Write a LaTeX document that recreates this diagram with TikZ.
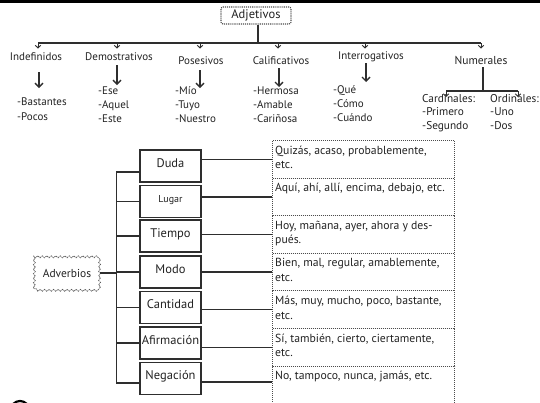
\documentclass[tikz,border=0pt]{standalone}
\usepackage{fontspec}
\setmainfont{PT Sans}
\usetikzlibrary{arrows.meta,decorations.pathmorphing}
\definecolor{ink}{HTML}{222222}
\definecolor{ln}{HTML}{2E2E2E}
\begin{document}
\begin{tikzpicture}[x=1pt,y=-1pt,
  txt/.style={font=\fontsize{11}{14}\selectfont, text=ink, inner sep=0pt},
  lst/.style={txt, align=left, anchor=north west},
  rowtxt/.style={lst, font=\fontsize{11.7}{14.5}\selectfont},
  advbox/.style={draw=ln, line width=1.6pt, minimum width=61pt, minimum height=32pt, inner sep=0pt, text=ink, font=\fontsize{12.5}{14}\selectfont, text height=9pt, text depth=7pt},
  dotbox/.style={draw=gray!60!black, densely dotted, line width=1pt, minimum width=182pt, minimum height=37.6pt, anchor=north west, inner sep=0pt},
  conn/.style={draw=ln, line width=1.3pt},
  bigarr/.style={conn, line width=1.4pt, -{Straight Barb[length=4pt,width=8pt]}},
  smallarr/.style={draw=ln, line width=1pt, -{Straight Barb[length=2.5pt,width=5.5pt]}}
]
\useasboundingbox (0,0) rectangle (540,402);
\fill[black] (0,0) rectangle (540,3);

% ---------- Adjetivos ----------
\node[txt, draw=gray!60!black, densely dotted, line width=1.1pt, rounded corners=2pt, minimum width=70pt, minimum height=17pt, font=\fontsize{12.5}{14}\selectfont] (adj) at (256,15.5) {Adjetivos};
\coordinate (barL) at (38,43);
\coordinate (barR) at (481,43);
\draw[conn] ([xshift=2pt]adj.south) -- ([xshift=2pt]adj.south |- barL);
\draw[conn] (barL) -- (barR);

\node[txt] (ind) at (36,57) {Indefinidos};
\node[txt] (dem) at (119,57) {Demostrativos};
\node[txt] (pos) at (201,61) {Posesivos};
\node[txt] (cal) at (281,61) {Calificativos};
\node[txt] (int) at (371,57) {Interrogativos};
\node[txt, font=\fontsize{11.5}{14}\selectfont] (num) at (481,60) {Numerales};

\foreach \n/\dx in {ind/2,dem/-2,pos/-1,cal/-3,int/-6,num/0}
  \draw[smallarr] ([xshift=\dx pt]\n.north |- barL) -- ++(0,5.5);

\draw[bigarr] ([shift={(3,15)}]ind.center) -- ++(0,16);
\draw[bigarr] ([shift={(-2,8)}]dem.center) -- ++(0,20);
\draw[bigarr] ([shift={(-1,9)}]pos.center) -- ++(0,18);
\draw[bigarr] ([shift={(-2,7)}]cal.center) -- ++(0,19);
\draw[bigarr] ([shift={(-5,6)}]int.center) -- ++(0,19);

\node[lst, font=\fontsize{11}{15}\selectfont] (indi) at (17,97.5) {-Bastantes\\-Pocos};
\node[lst] (demi) at (98,86.5) {-Ese\\-Aquel\\-Este};
\node[lst] (posi) at (175,86.5) {-Mío\\-Tuyo\\-Nuestro};
\node[lst] (cali) at (253,86.5) {-Hermosa\\-Amable\\-Cariñosa};
\node[lst] (inti) at (333,85.5) {-Qué\\-Cómo\\-Cuándo};

\node[lst, font=\fontsize{11.3}{13.5}\selectfont] (card) at (422,94) {Cardinales:\\-Primero\\-Segundo};
\node[lst, font=\fontsize{11.3}{13.5}\selectfont] (ord) at (490,94) {Ordinales:\\-Uno\\-Dos};
\coordinate (nj) at ([shift={(2,31)}]num.center);
\coordinate (nl) at (446,91);
\coordinate (nr) at (518,91);
\draw[conn] ([shift={(2,7)}]num.center) -- (nj);
\draw[conn] (nl) -- (nr);
\draw[smallarr] (nl) -- ++(0,6);
\draw[smallarr] (nr) -- ++(0,6);

% ---------- Adverbios ----------
\node[txt, font=\fontsize{11.5}{14}\selectfont, minimum width=65pt, minimum height=31pt] (adv) at (67,273) {Adverbios};
\draw[gray!70!black, line width=0.7pt, dash pattern=on 1.6pt off 0.8pt, decorate, decoration={snake, amplitude=1pt, segment length=4.5pt}] (adv.south west) rectangle (adv.north east);

\node[advbox] (duda) at (170.5,166) {Duda};
\node[advbox, font=\fontsize{10}{12}\selectfont] (lugar) at (170.5,201.5) {Lugar};
\node[advbox] (tiempo) at (170.5,236) {Tiempo};
\node[advbox] (modo) at (170.5,272) {Modo};
\node[advbox] (cant) at (170.5,307.5) {Cantidad};
\node[advbox] (afir) at (170.5,343) {Afirmación};
\node[advbox] (neg) at (170.5,378.5) {Negación};

\coordinate (ttop) at ([shift={(-23,6)}]duda.west);
\coordinate (tbot) at ([shift={(-23,4.5)}]neg.west);
\draw[conn] ([yshift=-6pt]duda.west) -- (ttop) -- (tbot) -- ([yshift=-4.5pt]neg.west);
\foreach \n in {lugar,tiempo,modo,cant,afir}
  \draw[conn] (ttop |- \n.west) -- (\n.west);
\draw[conn] (adv.east) -- (ttop |- adv.east);

\node[dotbox] (r1) at (272,140) {};
\node[dotbox] (r2) at (272,177.6) {};
\node[dotbox] (r3) at (272,215.2) {};
\node[dotbox] (r4) at (272,252.8) {};
\node[dotbox] (r5) at (272,290.4) {};
\node[dotbox] (r6) at (272,328) {};
\node[dotbox, minimum height=45pt] (r7) at (272,365.6) {};

\node[rowtxt] (t1) at ([shift={(3,5.5)}]r1.north west) {Quizás, acaso, probablemente,\\etc.};
\node[rowtxt] (t2) at ([shift={(3,5.5)}]r2.north west) {Aquí, ahí, allí, encima, debajo, etc.};
\node[rowtxt] (t3) at ([shift={(3,5.5)}]r3.north west) {Hoy, mañana, ayer, ahora y des-\\pués.};
\node[rowtxt] (t4) at ([shift={(3,5.5)}]r4.north west) {Bien, mal, regular, amablemente,\\etc.};
\node[rowtxt] (t5) at ([shift={(3,5.5)}]r5.north west) {Más, muy, mucho, poco, bastante,\\etc.};
\node[rowtxt] (t6) at ([shift={(3,5.5)}]r6.north west) {Sí, también, cierto, ciertamente,\\etc.};
\node[rowtxt] (t7) at ([shift={(3,5.5)}]r7.north west) {No, tampoco, nunca, jamás, etc.};

\foreach \a/\r in {duda/r1,lugar/r2,tiempo/r3,modo/r4,cant/r5,afir/r6}
  \draw[conn] (\a.east |- \r.west) -- (\r.west);
\draw[conn] ([yshift=-3.5pt]neg.east) -- ([yshift=-3.5pt]neg.east -| r7.west);

\draw[black, line width=2.2pt] (20,410) circle (9);
\end{tikzpicture}
\end{document}
